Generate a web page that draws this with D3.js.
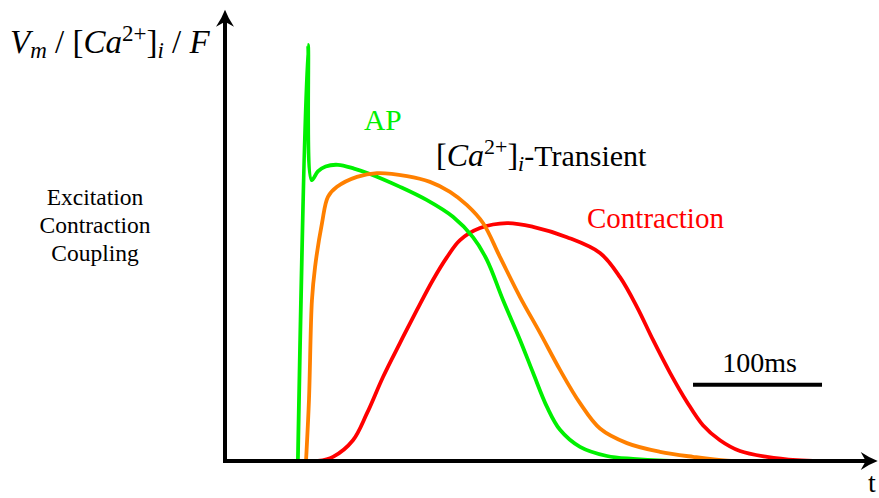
<!DOCTYPE html>
<html>
<head>
<meta charset="utf-8">
<script src="https://cdn.jsdelivr.net/npm/d3@7"></script>
<style>
  html, body { margin: 0; padding: 0; background: #fff; }
  svg { display: block; }
  svg text { font-family: "Liberation Serif", "Times New Roman", Times, "DejaVu Serif", "Noto Serif", serif; }
</style>
</head>
<body>
<svg id="chart" width="879" height="498"></svg>
<script>
// time in ms, signal in arbitrary units (AP spike peak = 100)
const apTime   = [56.5, 64.3, 67.2, 72, 78, 87.6, 100, 112.4, 135.7, 156.6, 176.7, 192.2, 203.1, 215.5, 228.7, 238.8, 249.6, 259.7, 275.2, 296.1, 316.3, 340, 380];
const apValue  = [0, 100, 67.5, 69.6, 70.8, 71.2, 70.3, 69.0, 65.9, 62.7, 58.7, 53.8, 48.3, 38.7, 29.1, 21.2, 13.0, 7.5, 3.4, 1.2, 0.5, 0.1, 0];

const caTime   = [62.8, 65.1, 67.4, 69.8, 75.2, 79.8, 86.8, 102.3, 117.8, 141.1, 158.9, 174.4, 187.6, 200, 213.2, 228.7, 244.2, 259.7, 275.2, 290.7, 311.6, 337.2, 362.8, 389.1, 414.7];
const caValue  = [0, 14.7, 38.7, 46.6, 57.2, 63.5, 65.9, 68.3, 69.2, 68.5, 67.1, 64.7, 61.5, 57.2, 49.0, 39.4, 30.8, 21.9, 13.9, 7.8, 4.3, 2.2, 1.0, 0.1, 0];

const conTime  = [72.1, 83.7, 99.2, 110.1, 122.5, 135.7, 148.8, 161.2, 172.1, 182.2, 197.7, 218.6, 238.8, 265.1, 290.7, 306.2, 319.4, 331.8, 345.0, 358.1, 370.5, 383.7, 399.2, 420.2, 443.4, 461.2];
const conValue = [0, 1.0, 5.0, 11.5, 20.2, 28.4, 36.3, 43.5, 49.0, 53.1, 56.0, 57.2, 56.3, 53.8, 50.0, 44.2, 37.0, 29.1, 21.2, 14.2, 8.6, 5.0, 2.4, 1.0, 0.2, 0];

const scaleBarStart = 362.8;   // ms
const scaleBarLength = 100;    // ms
const scaleBarLevel = 18.3;    // signal units
const scaleBarLabel = '100ms';

const xAxisEnd = 506;   // ms, arrow tip
const yAxisEnd = 108.5; // signal units, arrow tip

const zip = (t, v) => t.map((d, i) => [d, v[i]]);

const svg = d3.select('#chart');
const x = d3.scaleLinear().domain([0, 500]).range([225, 870]);
const y = d3.scaleLinear().domain([0, 100]).range([461, 45]);

const line = d3.line().x(d => x(d[0])).y(d => y(d[1])).curve(d3.curveCatmullRom.alpha(0.5));

// curves: red under, green, orange on top
const series = [
  { data: zip(conTime, conValue), color: '#ff0000' },
  { data: zip(apTime, apValue), color: '#00f000' },
  { data: zip(caTime, caValue), color: '#ff8000' }
];
svg.append('g').selectAll('path').data(series).enter().append('path')
  .attr('d', d => line(d.data))
  .attr('fill', 'none')
  .attr('stroke', d => d.color)
  .attr('stroke-width', 3.8)
  .attr('stroke-linejoin', 'round');

// axes with arrowheads
const head = 'M0,0 Q-8,-3 -17,-9 L-12,0 L-17,9 Q-8,3 0,0 Z';
const axes = svg.append('g');
axes.append('path')
  .attr('d', `M${x(0)},${y(0)}H${x(xAxisEnd) - 8}`)
  .attr('stroke', '#000').attr('stroke-width', 4).attr('fill', 'none');
axes.append('path')
  .attr('d', `M${x(0)},${y(0) + 2}V${y(yAxisEnd) + 8}`)
  .attr('stroke', '#000').attr('stroke-width', 4).attr('fill', 'none');
axes.append('path').attr('d', head)
  .attr('transform', `translate(${x(xAxisEnd)},${y(0)})`);
axes.append('path').attr('d', head)
  .attr('transform', `translate(${x(0)},${y(yAxisEnd)}) rotate(-90)`);

// scale bar
svg.append('line')
  .attr('x1', x(scaleBarStart)).attr('x2', x(scaleBarStart + scaleBarLength))
  .attr('y1', y(scaleBarLevel)).attr('y2', y(scaleBarLevel))
  .attr('stroke', '#000').attr('stroke-width', 4);
svg.append('text')
  .attr('x', (x(scaleBarStart) + x(scaleBarStart + scaleBarLength)) / 2 + 2)
  .attr('y', y(scaleBarLevel) - 13)
  .attr('text-anchor', 'middle').attr('font-size', 28)
  .text(scaleBarLabel);

// axis labels
svg.append('text').attr('x', 868).attr('y', 492).attr('font-size', 28).text('t');

function mathText(sel, parts) {
  parts.forEach(p => {
    const t = sel.append('tspan').text(p.s);
    if (p.it) t.attr('font-style', 'italic');
    if (p.size) t.attr('font-size', p.size);
    if (p.dy) t.attr('dy', p.dy);
  });
}

const ylab = svg.append('text').attr('x', 10).attr('y', 53).attr('font-size', 33);
mathText(ylab, [
  { s: 'V', it: true },
  { s: 'm', it: true, size: 23, dy: 5 },
  { s: ' / [', dy: -5 },
  { s: 'Ca', it: true },
  { s: '2+', size: 23, dy: -12 },
  { s: ']', dy: 12 },
  { s: 'i', it: true, size: 23, dy: 5 },
  { s: ' / ', dy: -5 },
  { s: 'F', it: true }
]);

svg.append('text').attr('x', 364).attr('y', 130).attr('font-size', 29.5)
  .attr('fill', '#00f000').text('AP');

const calab = svg.append('text').attr('x', 436).attr('y', 166).attr('font-size', 32);
mathText(calab, [
  { s: '[' },
  { s: 'Ca', it: true },
  { s: '2+', size: 22, dy: -12 },
  { s: ']', dy: 12 },
  { s: 'i', it: true, size: 22, dy: 5 },
  { s: '-Transient', size: 30, dy: -5 }
]);

svg.append('text').attr('x', 587).attr('y', 228).attr('font-size', 29)
  .attr('fill', '#ff0000').text('Contraction');

svg.append('text').attr('x', 95).attr('y', 205).attr('font-size', 23.5)
  .attr('text-anchor', 'middle')
  .selectAll('tspan').data(['Excitation', 'Contraction', 'Coupling']).enter().append('tspan')
  .attr('x', 95).attr('dy', (d, i) => i === 0 ? 0 : 28).text(d => d);
</script>
</body>
</html>
